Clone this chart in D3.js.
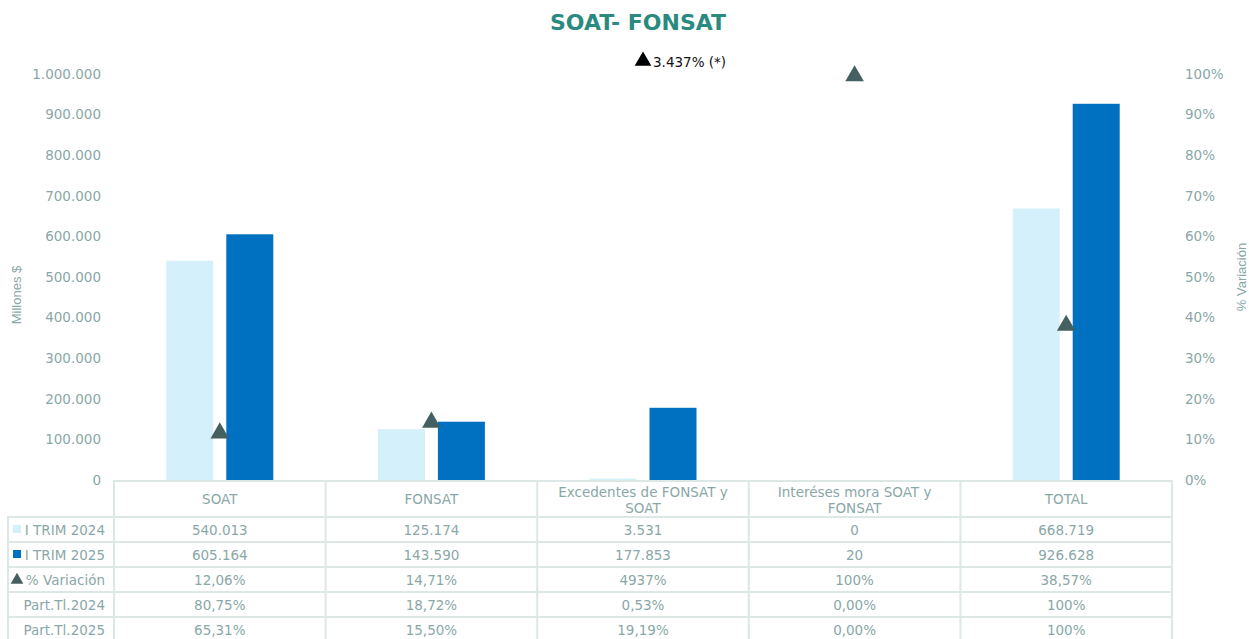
<!DOCTYPE html>
<html>
<head>
<meta charset="utf-8">
<script src="https://cdn.jsdelivr.net/npm/d3@7"></script>
<style>
  body { margin: 0; background: #fff; }
  text { font-family: Verdana, "DejaVu Sans", sans-serif; }
</style>
</head>
<body>
<script>
// datos
var categorias = ["SOAT", "FONSAT", "Excedentes de FONSAT y SOAT", "Interéses mora SOAT y FONSAT", "TOTAL"];
var trim2024 = [540013, 125174, 3531, 0, 668719];
var trim2025 = [605164, 143590, 177853, 20, 926628];
var variacion = [0.1206, 0.1471, 49.37, 1.00, 0.3857];
var part2024 = ["80,75%", "18,72%", "0,53%", "0,00%", "100%"];
var part2025 = ["65,31%", "15,50%", "19,19%", "0,00%", "100%"];
var variacionTxt = ["12,06%", "14,71%", "4937%", "100%", "38,57%"];
var notaExcedente = "3.437% (*)";
var ticksIzq = [0, 100000, 200000, 300000, 400000, 500000, 600000, 700000, 800000, 900000, 1000000];
var ticksDer = [0, 0.1, 0.2, 0.3, 0.4, 0.5, 0.6, 0.7, 0.8, 0.9, 1];

var W = 1249, H = 639;
var margin = { top: 74, left: 114, right: 77, bottom: 159 };
var width = W - margin.left - margin.right,
    height = H - margin.top - margin.bottom;

var colTexto = "#8aa7a7",
    colLinea = "#dde7e6",
    colClaro = "#d3f0fb",
    colOscuro = "#0070c0",
    colMarca = "#456060";

var svg = d3.select("body").append("svg")
    .attr("width", W)
    .attr("height", H);

// titulo
svg.append("text")
    .attr("x", 638).attr("y", 30)
    .attr("text-anchor", "middle")
    .attr("font-size", "22px")
    .attr("font-weight", "bold")
    .attr("fill", "#2a8a80")
    .text("SOAT- FONSAT");

var chart = svg.append("g")
    .attr("transform", "translate(" + margin.left + "," + margin.top + ")");

var x = d3.scaleBand().domain(categorias).range([0, width]);
var y = d3.scaleLinear().domain([0, 1000000]).range([height, 0]);
var y2 = d3.scaleLinear().domain([0, 1]).range([height, 0]);

var fmtMiles = function (v) { return d3.format(",")(v).replace(/,/g, "."); };

// eje izquierdo
var yAxis = d3.axisLeft(y).tickValues(ticksIzq).tickSize(0).tickPadding(13).tickFormat(fmtMiles);
chart.append("g").call(yAxis)
    .call(function (g) { g.select(".domain").remove(); })
    .selectAll("text")
    .attr("fill", colTexto)
    .attr("font-size", "13.5px")
    .attr("font-family", "Verdana, 'DejaVu Sans', sans-serif");

// eje derecho
var y2Axis = d3.axisRight(y2).tickValues(ticksDer).tickSize(0).tickPadding(13).tickFormat(d3.format(".0%"));
chart.append("g").attr("transform", "translate(" + width + ",0)").call(y2Axis)
    .call(function (g) { g.select(".domain").remove(); })
    .selectAll("text")
    .attr("fill", colTexto)
    .attr("font-size", "13.5px")
    .attr("font-family", "Verdana, 'DejaVu Sans', sans-serif");

// titulos de ejes
svg.append("text")
    .attr("transform", "translate(21,295) rotate(-90)")
    .attr("text-anchor", "middle")
    .attr("font-size", "13px")
    .attr("fill", colTexto)
    .style("font-family", "'Liberation Sans', Arial, sans-serif")
    .text("Millones $");

svg.append("text")
    .attr("transform", "translate(1246,277) rotate(-90)")
    .attr("text-anchor", "middle")
    .attr("font-size", "13px")
    .attr("fill", colTexto)
    .style("font-family", "'Liberation Sans', Arial, sans-serif")
    .text("% Variación");

// barras
var bw = 47, gap = 13;
var barras = chart.append("g");
barras.selectAll("rect.a")
    .data(categorias)
    .enter().append("rect")
    .attr("class", "a")
    .attr("x", function (d) { return x(d) + x.bandwidth() / 2 - gap / 2 - bw; })
    .attr("y", function (d, i) { return y(trim2024[i]); })
    .attr("width", bw)
    .attr("height", function (d, i) { return height - y(trim2024[i]); })
    .attr("fill", colClaro);

barras.selectAll("rect.b")
    .data(categorias)
    .enter().append("rect")
    .attr("class", "b")
    .attr("x", function (d) { return x(d) + x.bandwidth() / 2 + gap / 2; })
    .attr("y", function (d, i) { return y(trim2025[i]); })
    .attr("width", bw)
    .attr("height", function (d, i) { return height - y(trim2025[i]); })
    .attr("fill", colOscuro);

// marcadores de variacion (el triangulo de d3 va centrado en su centroide)
var tri = d3.symbol().type(d3.symbolTriangle).size(150);
chart.append("g").selectAll("path")
    .data(categorias.filter(function (d, i) { return variacion[i] <= 1; }))
    .enter().append("path")
    .attr("d", tri)
    .attr("fill", colMarca)
    .attr("transform", function (d) {
        var i = categorias.indexOf(d);
        return "translate(" + (x(d) + x.bandwidth() / 2) + "," + (y2(variacion[i]) + 2) + ")";
    });

// nota del valor fuera de escala
var cx = x(categorias[2]) + x.bandwidth() / 2;
chart.append("path")
    .attr("d", d3.symbol().type(d3.symbolTriangle).size(120))
    .attr("fill", "#000")
    .attr("transform", "translate(" + cx + "," + (-13) + ")");
chart.append("text")
    .attr("x", cx + 10).attr("y", -7)
    .attr("font-size", "13.5px")
    .attr("fill", "#111")
    .text(notaExcedente);

// tabla de datos
var tabla = svg.append("g");
var filas = [
    { nombre: "I TRIM 2024", clave: "rect", color: colClaro, valores: trim2024.map(fmtMiles) },
    { nombre: "I TRIM 2025", clave: "rect", color: colOscuro, valores: trim2025.map(fmtMiles) },
    { nombre: "% Variación", clave: "tri", color: colMarca, valores: variacionTxt },
    { nombre: "Part.Tl.2024", clave: null, valores: part2024 },
    { nombre: "Part.Tl.2025", clave: null, valores: part2025 }
];
var top0 = margin.top + height + 1, headerH = 36, rowH = 25, leftX = 8;
var bottom = top0 + headerH + rowH * filas.length;

// lineas
tabla.append("rect")
    .attr("x", margin.left).attr("y", top0)
    .attr("width", width).attr("height", bottom - top0)
    .attr("fill", "none").attr("stroke", colLinea).attr("stroke-width", 2);
tabla.append("rect")
    .attr("x", leftX).attr("y", top0 + headerH)
    .attr("width", margin.left - leftX).attr("height", bottom - top0 - headerH)
    .attr("fill", "none").attr("stroke", colLinea).attr("stroke-width", 2);
categorias.forEach(function (c, i) {
    if (i > 0) {
        tabla.append("line")
            .attr("x1", margin.left + x(c)).attr("x2", margin.left + x(c))
            .attr("y1", top0).attr("y2", bottom)
            .attr("stroke", colLinea).attr("stroke-width", 2);
    }
});
filas.forEach(function (f, j) {
    var yy = top0 + headerH + rowH * j;
    tabla.append("line")
        .attr("x1", leftX).attr("x2", margin.left + width)
        .attr("y1", yy).attr("y2", yy)
        .attr("stroke", colLinea).attr("stroke-width", 2);
});

// encabezados
var encabezados = [["SOAT"], ["FONSAT"], ["Excedentes de FONSAT y", "SOAT"], ["Interéses mora SOAT y", "FONSAT"], ["TOTAL"]];
categorias.forEach(function (c, i) {
    var t = tabla.append("text")
        .attr("text-anchor", "middle")
        .attr("font-size", "13.5px")
        .attr("fill", colTexto);
    var lineas = encabezados[i];
    lineas.forEach(function (l, k) {
        t.append("tspan")
            .attr("x", margin.left + x(c) + x.bandwidth() / 2)
            .attr("y", lineas.length == 1 ? top0 + 23 : top0 + 16 + k * 16)
            .text(l);
    });
});

// filas
filas.forEach(function (f, j) {
    var yy = top0 + headerH + rowH * j + 18;
    tabla.append("text")
        .attr("x", 105).attr("y", yy)
        .attr("text-anchor", "end")
        .attr("font-size", "13.5px")
        .attr("fill", colTexto)
        .text(f.nombre);
    if (f.clave == "rect") {
        tabla.append("rect")
            .attr("x", 13).attr("y", yy - 10)
            .attr("width", 8).attr("height", 8)
            .attr("fill", f.color);
    } else if (f.clave == "tri") {
        tabla.append("path")
            .attr("d", d3.symbol().type(d3.symbolTriangle).size(70))
            .attr("fill", f.color)
            .attr("transform", "translate(17," + (yy - 5) + ")");
    }
    f.valores.forEach(function (v, i) {
        tabla.append("text")
            .attr("x", margin.left + x(categorias[i]) + x.bandwidth() / 2)
            .attr("y", yy)
            .attr("text-anchor", "middle")
            .attr("font-size", "13.5px")
            .attr("fill", colTexto)
            .text(v);
    });
});
</script>
</body>
</html>
